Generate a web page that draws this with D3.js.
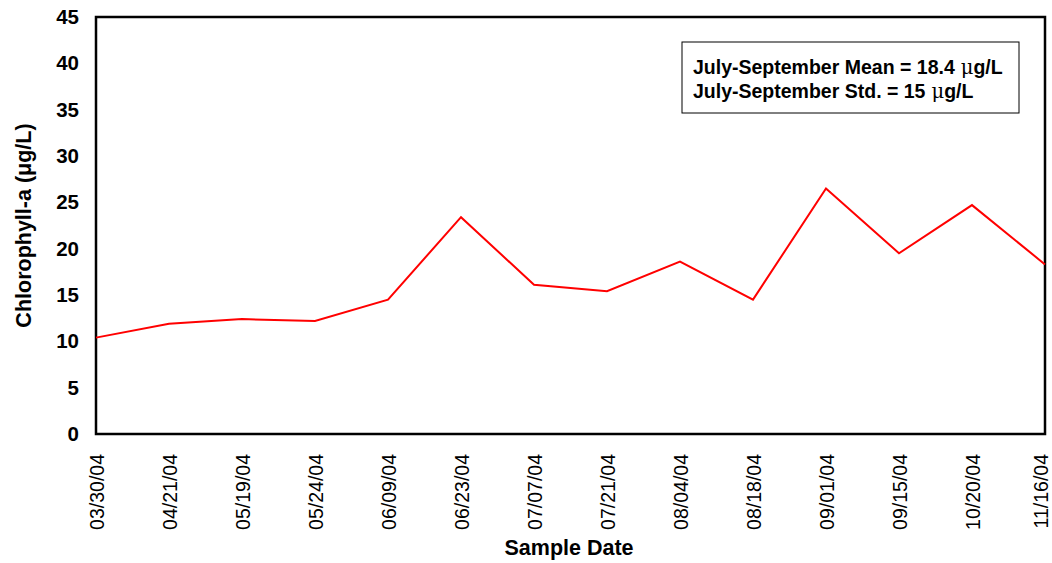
<!DOCTYPE html>
<html><head><meta charset="utf-8">
<script src="https://cdn.jsdelivr.net/npm/d3@7"></script>
<style>body{margin:0;background:#fff}text{font-family:"Liberation Sans",Arial,sans-serif}</style>
</head><body><svg id="c" width="1052" height="563"></svg>
<script>
const dates = ["03/30/04","04/21/04","05/19/04","05/24/04","06/09/04","06/23/04","07/07/04","07/21/04","08/04/04","08/18/04","09/01/04","09/15/04","10/20/04","11/16/04"];
const chla = [10.4,11.9,12.4,12.2,14.5,23.4,16.1,15.4,18.6,14.5,26.5,19.5,24.7,18.3];
const yTicks = [0,5,10,15,20,25,30,35,40,45];
const statLines = [["July-September Mean = 18.4","g/L"],["July-September Std. = 15","g/L"]];

const svg = d3.select("#c");
const L=96, R=1045, T=17, B=434;
const x = d3.scalePoint().domain(dates).range([L,R]).padding(0);
const y = d3.scaleLinear().domain([0,45]).range([B,T]);

// y axis labels
const ya = svg.append("g").attr("transform",`translate(${L},0)`)
  .call(d3.axisLeft(y).tickValues(yTicks).tickSize(0).tickPadding(17));
ya.select(".domain").remove();
ya.selectAll("text").attr("font-size",20.5).attr("font-weight","bold").attr("fill","#000")
  .style("font-family","Liberation Sans, Arial, sans-serif");

// x axis labels
const xa = svg.append("g").attr("transform",`translate(0,${B})`)
  .call(d3.axisBottom(x).tickSize(0));
xa.select(".domain").remove();
xa.selectAll("text").attr("font-size",19.5).attr("fill","#000")
  .style("font-family","Liberation Sans, Arial, sans-serif")
  .attr("transform","rotate(-90)").attr("text-anchor","end")
  .attr("x",-20).attr("y",(d,i)=> i===dates.length-1 ? -4 : 1).attr("dy","0.35em");

// frame
svg.append("rect").attr("x",L).attr("y",T).attr("width",R-L).attr("height",B-T)
  .attr("fill","none").attr("stroke","#000").attr("stroke-width",2.5);

// line
svg.append("path").datum(chla)
  .attr("d",d3.line().x((d,i)=>x(dates[i])).y(d=>y(d)))
  .attr("fill","none").attr("stroke","#ff0000").attr("stroke-width",2);

// titles
svg.append("text").attr("transform",`translate(31,${(T+B)/2}) rotate(-90)`)
  .attr("text-anchor","middle").attr("font-size",21.5).attr("font-weight","bold").text("Chlorophyll-a (\u03BCg/L)");
svg.append("text").attr("x",569).attr("y",555).attr("text-anchor","middle")
  .attr("font-size",21.5).attr("font-weight","bold").text("Sample Date");

// stats box
svg.append("rect").attr("x",682).attr("y",42).attr("width",337).attr("height",71)
  .attr("fill","#fff").attr("stroke","#000").attr("stroke-width",1);
const st = svg.selectAll(".st").data(statLines).join("text").attr("class","st")
  .attr("x",693).attr("y",(d,i)=>74+i*24).attr("font-size",19.5).attr("font-weight","bold");
st.append("tspan").text(d=>d[0]);
st.append("tspan").attr("dx",6).attr("font-weight","normal").style("font-family","DejaVu Serif, serif").attr("font-size",19.5).text("\u03BC");
st.append("tspan").attr("dx",0).text(d=>d[1]);
</script></body></html>
